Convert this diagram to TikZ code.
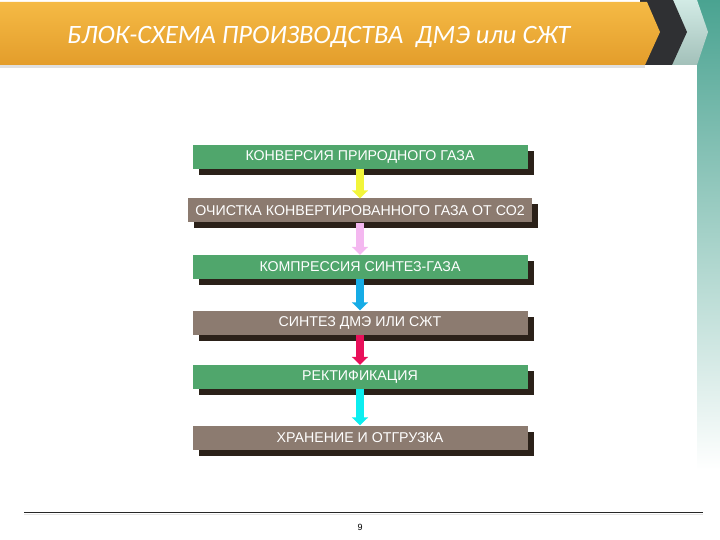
\documentclass[tikz,border=0pt]{standalone}
\usepackage{fontspec}
\setmainfont{Liberation Sans}
\newfontfamily\titlefont{Carlito}
\usetikzlibrary{arrows.meta,shadows}

\definecolor{stagegreen}{HTML}{50A66C}
\definecolor{stagegrey}{HTML}{8C7B70}
\definecolor{shadowbrown}{HTML}{2B2119}
\definecolor{bannertop}{HTML}{F5BA45}
\definecolor{bannerbottom}{HTML}{E39D2B}
\definecolor{chevrondark}{HTML}{2F3033}
\definecolor{chevronlight}{HTML}{BFE2DA}
\definecolor{stripteal}{HTML}{4AA391}
\definecolor{arrowyellow}{HTML}{F2F53A}
\definecolor{arrowpink}{HTML}{F4B8F0}
\definecolor{arrowblue}{HTML}{16ACE6}
\definecolor{arrowred}{HTML}{E8105A}
\definecolor{arrowcyan}{HTML}{0CEEF0}

\begin{document}
\begin{tikzpicture}[x=1pt, y=-1pt,
    stage/.style={rectangle, fill=#1, minimum width=335pt, minimum height=24pt,
        inner sep=0pt, text=white, font=\fontsize{14.2}{16}\selectfont,
        drop shadow={shadow xshift=6pt, shadow yshift=-6pt, fill=shadowbrown, opacity=1}},
    flow/.style={line width=8pt, draw=#1, -{Triangle[length=8pt, width=16pt]}}]
    \useasboundingbox (0,0) rectangle (720,540);

    % Header banner
    \shade[top color=stripteal, bottom color=white] (697,0) rectangle (720,470);
    \shade[top color=chevronlight!70!white, bottom color=chevronlight!85!black]
        (660,0) -- (697,0) -- (708,32) -- (697,65) -- (660,65) -- cycle;
    \fill[chevrondark] (640,0) -- (673,0) -- (687,32) -- (672,65) -- (640,65) -- cycle;
    \fill[black!12] (0,65) rectangle (645,68);
    \shade[top color=bannertop, bottom color=bannerbottom]
        (0,2) -- (647,2) -- (660,32) -- (645,65) -- (0,65) -- cycle;
    \node[anchor=base west, inner sep=0pt, text=white, font=\titlefont\itshape\fontsize{26.5}{30}\selectfont]
        (title) at (67,44) {БЛОК-СХЕМА ПРОИЗВОДСТВА \ ДМЭ или СЖТ};

    % Process stages
    \node[stage=stagegreen] (conversion) at (360,157) {КОНВЕРСИЯ ПРИРОДНОГО ГАЗА};
    \node[stage=stagegrey, minimum width=344pt] (cleaning) at (360,210.5) {ОЧИСТКА КОНВЕРТИРОВАННОГО ГАЗА ОТ СО2};
    \node[stage=stagegreen] (compression) at (360,267) {КОМПРЕССИЯ СИНТЕЗ-ГАЗА};
    \node[stage=stagegrey] (synthesis) at (360,322.5) {СИНТЕЗ ДМЭ ИЛИ СЖТ};
    \node[stage=stagegreen] (rectification) at (360,377) {РЕКТИФИКАЦИЯ};
    \node[stage=stagegrey] (storage) at (360,437.5) {ХРАНЕНИЕ И ОТГРУЗКА};

    % Flow arrows
    \draw[flow=arrowyellow] (conversion) -- (cleaning);
    \draw[flow=arrowpink] (cleaning) -- (compression);
    \draw[flow=arrowblue] (compression) -- (synthesis);
    \draw[flow=arrowred] (synthesis) -- (rectification);
    \draw[flow=arrowcyan] (rectification) -- (storage);

    % Footer
    \draw[black!85, line width=1pt] (24,512) -- (703,512);
    \draw[black!10, line width=1pt] (24,514) -- (703,514);
    \node[font=\fontsize{9}{10}\selectfont] (page) at (360,527) {9};

\end{tikzpicture}
\end{document}
